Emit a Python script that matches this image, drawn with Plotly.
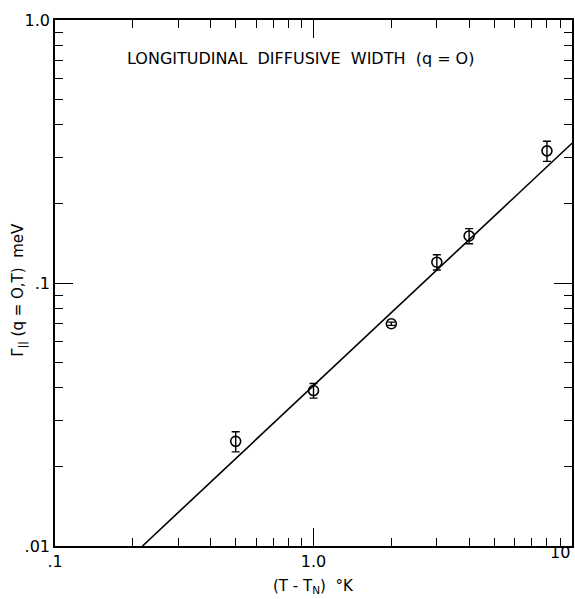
import plotly.graph_objects as go

# Data
temp_diff = [0.5, 1.0, 2.0, 3.0, 4.0, 8.0]           # (T - T_N) in K
gamma_width = [0.025, 0.039, 0.070, 0.120, 0.151, 0.318]  # meV
gamma_err = [0.0022, 0.0025, 0.0010, 0.008, 0.010, 0.028]

fit_x = [0.218, 10.0]
fit_y = [0.010, 0.340]

x_major = [0.1, 1.0, 10.0]
x_major_text = [".1", "1.0", ""]
y_major = [0.01, 0.1, 1.0]
y_major_text = [".01", ".1", "1.0"]
x_minor = [0.2, 0.3, 0.4, 0.5, 0.6, 0.7, 0.8, 0.9, 2, 3, 4, 5, 6, 7, 8, 9]
y_minor = [0.02, 0.03, 0.04, 0.05, 0.06, 0.07, 0.08, 0.09,
           0.2, 0.3, 0.4, 0.5, 0.6, 0.7, 0.8, 0.9]

FONT = "DejaVu Sans"

fig = go.Figure()
fig.add_trace(go.Scatter(
    x=fit_x, y=fit_y, mode="lines",
    line=dict(color="black", width=1.6), showlegend=False, hoverinfo="skip"))
fig.add_trace(go.Scatter(
    x=temp_diff, y=gamma_width, mode="markers",
    marker=dict(symbol="circle-open", size=10, color="black", line=dict(width=1.6)),
    error_y=dict(type="data", array=gamma_err, color="black", thickness=1.4, width=4),
    showlegend=False))

axis_common = dict(
    type="log", showgrid=False, zeroline=False,
    showline=True, linecolor="black", linewidth=1.5,
    mirror="allticks", ticks="inside", ticklen=18, tickwidth=1.3, tickcolor="black",
    tickfont=dict(family=FONT, size=16, color="black"),
)

fig.update_xaxes(
    **axis_common, range=[-1, 1], tickmode="array",
    tickvals=x_major, ticktext=x_major_text,
    minor=dict(tickvals=x_minor, ticks="inside", ticklen=8, tickwidth=1.2, tickcolor="black"),
)
fig.update_yaxes(
    **axis_common, range=[-2, 0], tickmode="array",
    tickvals=y_major, ticktext=y_major_text,
    minor=dict(tickvals=y_minor, ticks="inside", ticklen=8, tickwidth=1.2, tickcolor="black"),
)

# "10" label at the right end, kept inside the page
fig.add_annotation(
    text="10", xref="x", yref="paper", x=1, y=0, yshift=-18, xanchor="right",
    showarrow=False, font=dict(family=FONT, size=16, color="black"))

fig.add_annotation(
    text="LONGITUDINAL  DIFFUSIVE  WIDTH  (q = O)",
    xref="paper", yref="paper", x=0.475, y=0.948, showarrow=False,
    font=dict(family=FONT, size=16, color="black"))
fig.add_annotation(
    text="(T - T<sub>N</sub>)  °K",
    xref="paper", yref="paper", x=0.5, y=-0.077, yanchor="middle", showarrow=False,
    font=dict(family=FONT, size=15, color="black"))
fig.add_annotation(
    text="Γ<sub>||</sub> (q = O,T)  meV",
    xref="paper", yref="paper", x=-0.07, y=0.487, xanchor="center", yanchor="middle",
    textangle=-90, showarrow=False, font=dict(family=FONT, size=15, color="black"))

fig.update_layout(
    width=575, height=599,
    margin=dict(l=55, r=1, t=20, b=53),
    plot_bgcolor="white", paper_bgcolor="white",
)

fig.write_html("out.html")
